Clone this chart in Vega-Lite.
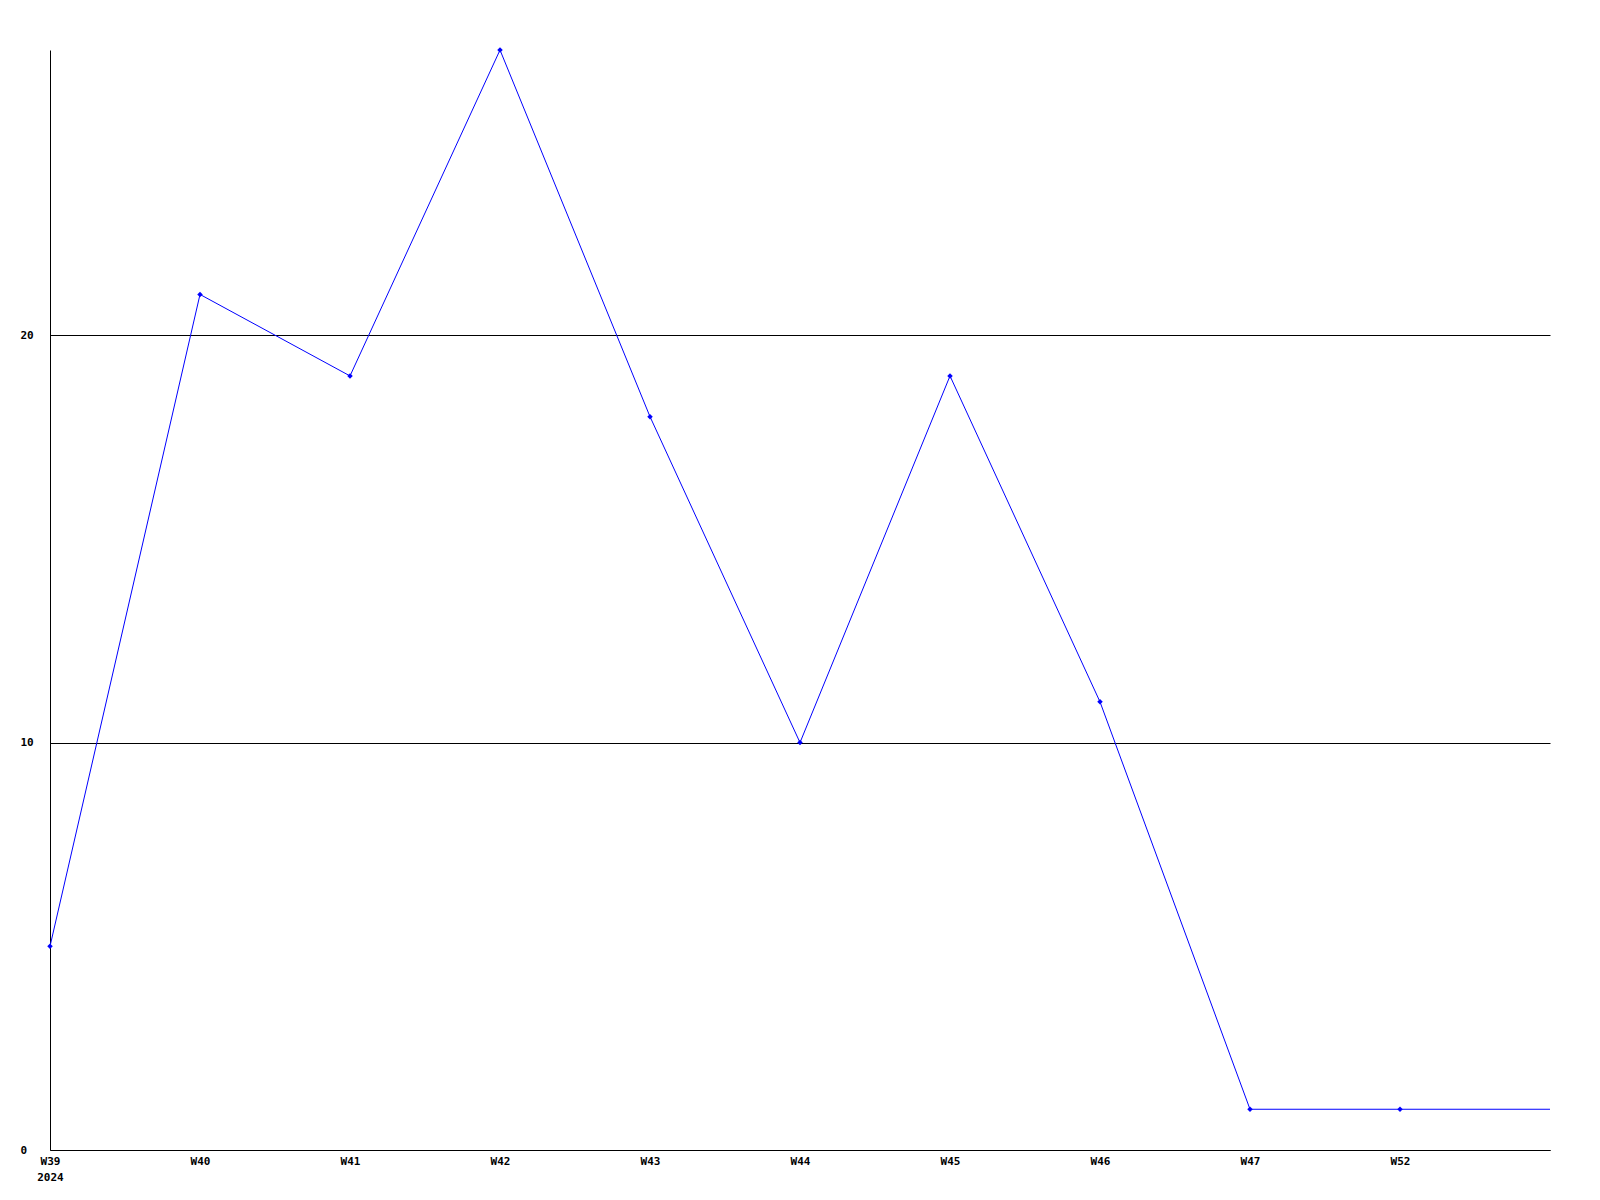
{
  "$schema": "https://vega.github.io/schema/vega-lite/v6.json",
  "width": 1500,
  "height": 1100,
  "autosize": {"type": "none"},
  "padding": {"left": 50, "top": 50, "right": 50, "bottom": 50},
  "background": "white",
  "config": {
    "view": {"stroke": null},
    "axis": {
      "labelFont": "DejaVu Sans Mono",
      "labelFontWeight": "bold",
      "labelFontSize": 11,
      "labelColor": "black",
      "domainColor": "black",
      "domainWidth": 1,
      "ticks": false,
      "title": null
    }
  },
  "data": {
    "values": [
      {"week": "W39", "count": 5},
      {"week": "W40", "count": 21},
      {"week": "W41", "count": 19},
      {"week": "W42", "count": 27},
      {"week": "W43", "count": 18},
      {"week": "W44", "count": 10},
      {"week": "W45", "count": 19},
      {"week": "W46", "count": 11},
      {"week": "W47", "count": 1},
      {"week": "W52", "count": 1},
      {"week": "end", "count": 1}
    ]
  },
  "encoding": {
    "x": {
      "field": "week",
      "type": "ordinal",
      "sort": null,
      "scale": {"type": "point", "padding": 0},
      "axis": {
        "labelAngle": 0,
        "labelPadding": 5,
        "labelLineHeight": 16,
        "labelBaseline": "top",
        "labelExpr": "datum.value == 'W39' ? ['W39', '2024'] : (datum.value == 'end' ? '' : datum.value)"
      }
    },
    "y": {
      "field": "count",
      "type": "quantitative",
      "scale": {"domain": [0, 27], "nice": false, "zero": true},
      "axis": {
        "values": [0, 10, 20],
        "grid": true,
        "gridColor": "black",
        "gridOpacity": 1,
        "gridWidth": 1,
        "labelAlign": "left",
        "labelPadding": 30
      }
    }
  },
  "layer": [
    {
      "mark": {"type": "line", "color": "#0000ff", "strokeWidth": 1}
    },
    {
      "transform": [{"filter": "datum.week != 'end'"}],
      "mark": {"type": "point", "shape": "diamond", "filled": true, "color": "#0000ff", "size": 30, "opacity": 1}
    }
  ]
}
